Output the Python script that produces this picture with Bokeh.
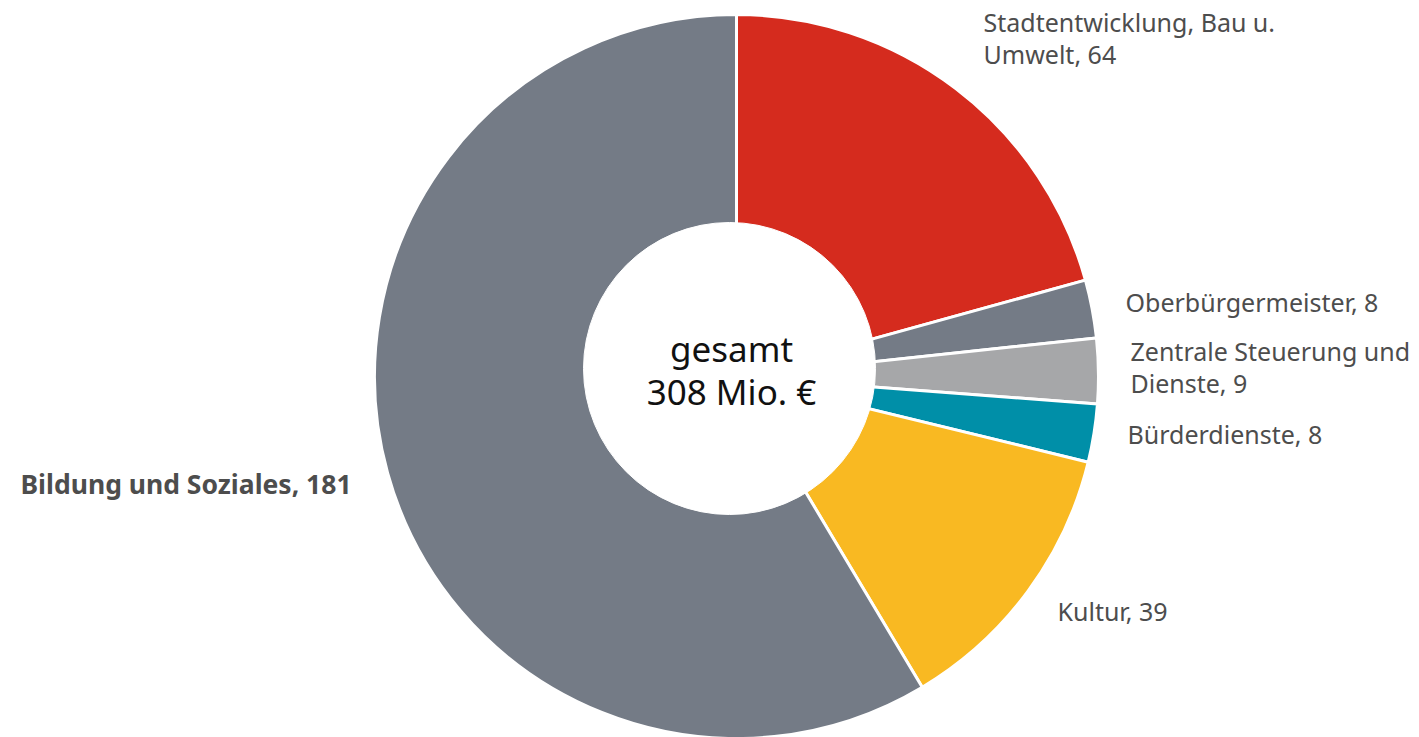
import numpy as np
from bokeh.plotting import figure
from bokeh.models import Range1d
from bokeh.core.properties import value
from bokeh.embed import file_html
from bokeh.resources import INLINE

# ---- data ----
categories = ["Stadtentwicklung, Bau u. Umwelt", "Oberbürgermeister", "Zentrale Steuerung und Dienste",
              "Bürderdienste", "Kultur", "Bildung und Soziales"]
values = [64, 8, 9, 8, 39, 181]
colors = ["#D52B1E", "#747B86", "#A6A7A9", "#008FA8", "#F9B922", "#747B86"]
label_lines = [["Stadtentwicklung, Bau u.", "Umwelt, 64"],
               ["Oberbürgermeister, 8"],
               ["Zentrale Steuerung und", "Dienste, 9"],
               ["Bürderdienste, 8"],
               ["Kultur, 39"],
               ["Bildung und Soziales, 181"]]
total_label = ["gesamt", "308 Mio. €"]

# ---- layout (screen px -> data coords, y = TOP - Y) ----
W, H = 1419, 737
TOP = 737  # reference image height
p = figure(width=W, height=H, output_backend="svg", toolbar_location=None,
           x_range=Range1d(0, W), y_range=Range1d(TOP - H, TOP),
           min_border=0, outline_line_color=None)
p.axis.visible = False
p.grid.visible = False
p.background_fill_color = "white"
p.border_fill_color = "white"

cx, cy = 736, TOP - 376
r_out = 362
hole_x, hole_y, r_in = 729, TOP - 368, 146
vals = np.array(values, dtype=float)
tot = vals.sum()
cum = np.concatenate([[0], np.cumsum(vals)])
start = np.pi / 2 - cum[:-1] / tot * 2 * np.pi
end = np.pi / 2 - cum[1:] / tot * 2 * np.pi

p.wedge(x=cx, y=cy, radius=r_out,
        start_angle=list(start), end_angle=list(end), direction="clock",
        fill_color=colors, line_color="white", line_width=3)
p.circle(x=[hole_x], y=[hole_y], radius=r_in, fill_color="white", line_color="white", line_width=1)

font = value("Noto Sans")
dy = 12  # baseline correction
# label anchor positions (left x, baseline Y of first line in screen px)
anchors = [(983, 33), (1125, 313), (1130, 362), (1127, 445), (1057, 622), (20, 495)]
lh = 32
for i, lines in enumerate(label_lines):
    ax, ay = anchors[i]
    for j, ln in enumerate(lines):
        p.text(x=[ax], y=[TOP - (ay - dy + j * lh)], text=[ln], text_font=font,
               text_font_size="26.5px" if i == 5 else "25px", text_color="#4D4D4D",
               text_font_style="bold" if i == 5 else "normal",
               text_baseline="alphabetic", text_align="left")

for j, ln in enumerate(total_label):
    p.text(x=[731], y=[TOP - (360 - dy + j * 43)], text=[ln], text_font=font,
           text_font_size="35px", text_color="#111111",
           text_baseline="alphabetic", text_align="center")

open("out.html", "w").write(file_html(p, INLINE))
